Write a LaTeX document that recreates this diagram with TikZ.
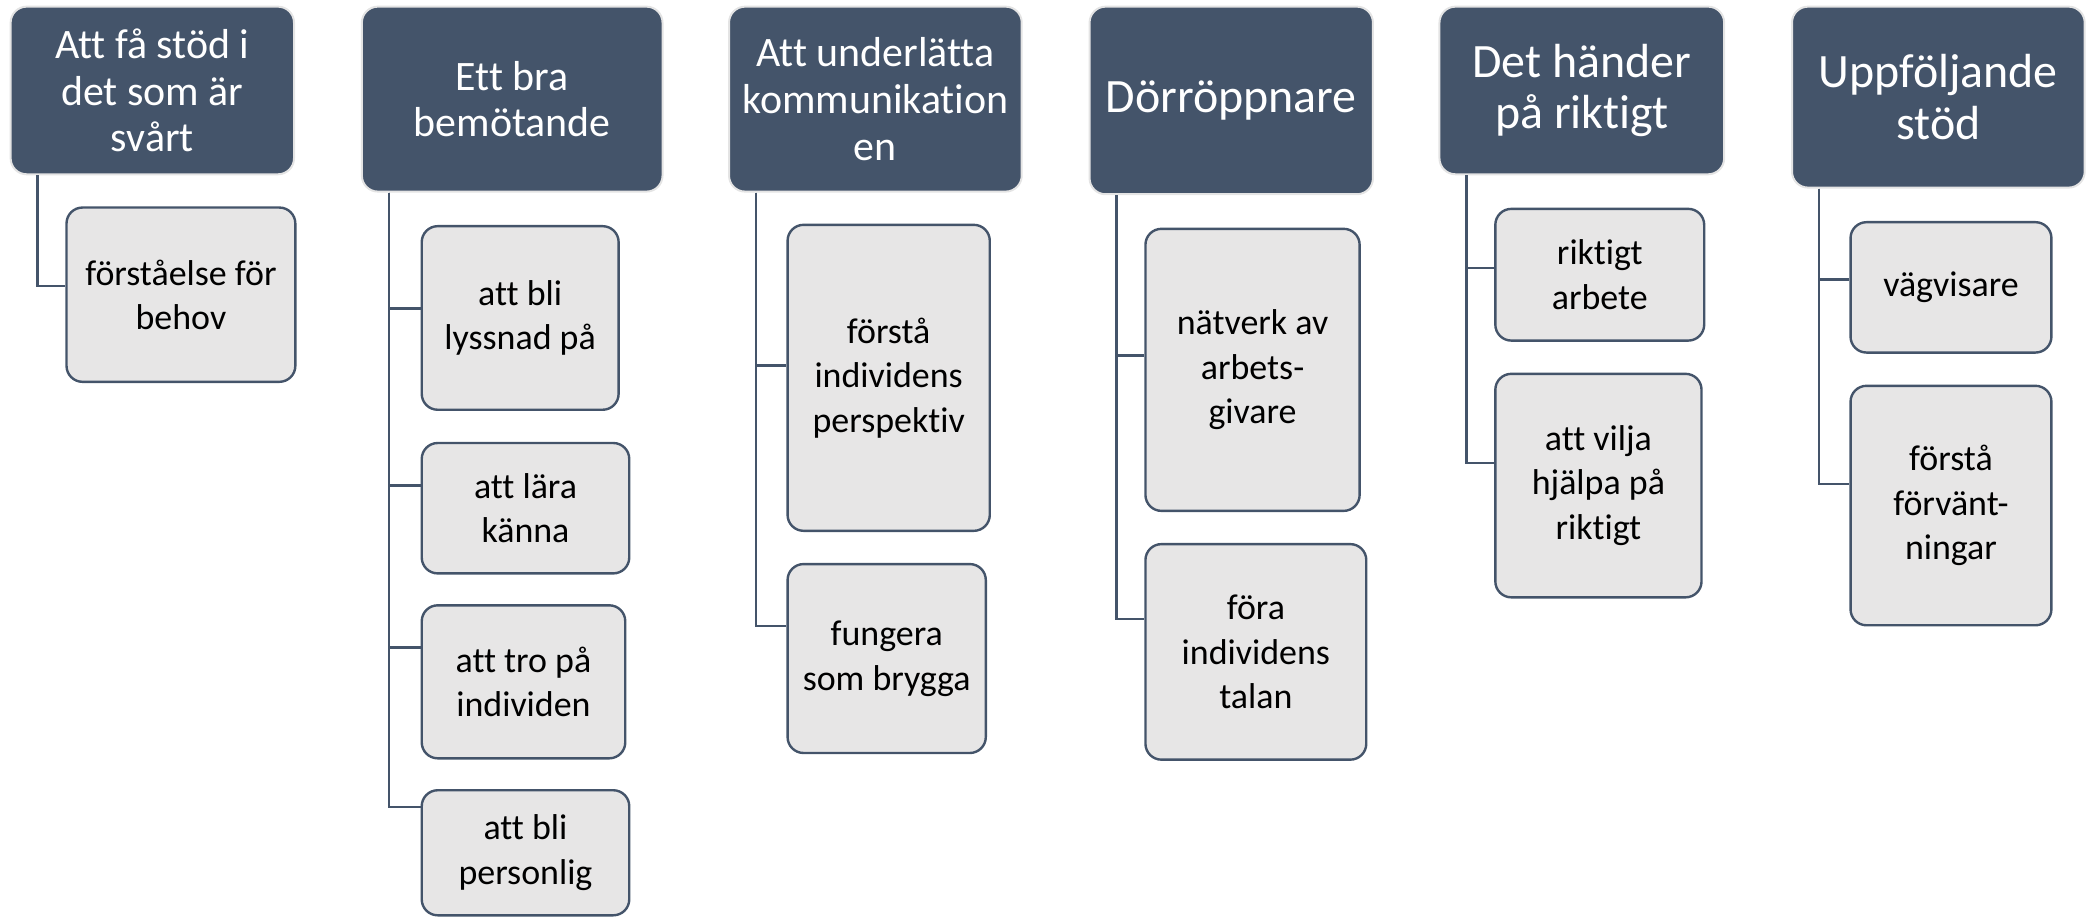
\documentclass[tikz,border=0pt]{standalone}
\usepackage{fontspec}
\setmainfont{Carlito}[Ligatures={NoCommon,NoContextual}]
\usetikzlibrary{calc}
\definecolor{hdrfill}{HTML}{44546A}
\definecolor{boxfill}{HTML}{E7E6E6}
\definecolor{hdrline}{HTML}{E4E4E4}
\tikzset{
  hdr/.style={draw=hdrline, line width=1.5pt, fill=hdrfill, rounded corners=12pt,
    text=white, font=\fontsize{31.5}{35}\selectfont, align=center, inner sep=0pt},
  hdrbig/.style={hdr, font=\fontsize{36}{39}\selectfont},
  sub/.style={draw=hdrfill, line width=1.8pt, fill=boxfill, rounded corners=12pt,
    text=black, font=\fontsize{27}{33.5}\selectfont, align=center, inner sep=0pt},
  link/.style={draw=hdrfill, line width=1.8pt},
}
\newcommand\mkbox[7]{\node[#1, minimum width={(#5-#3)*1pt}, minimum height={(#6-#4)*1pt}] (#2) at ({(#3+#5)/2},{(#4+#6)/2}) {#7};}
\newcommand\lnk[3]{\draw[link] ($(#1.south west)+(21,0)$) |- ($(#2.north west)!#3!(#2.south west)$);}
\begin{document}
\begin{tikzpicture}[x=1pt,y=-1pt]
\useasboundingbox (0,0) rectangle (1568,689);
% headers
\mkbox{hdr}{h1}{8}{5}{221}{131}{Att få stöd i\\det som är\\svårt}
\mkbox{hdr}{h2}{272}{5}{498}{144}{Ett bra\\bemötande}
\mkbox{hdr}{h3}{548}{5}{768}{144}{Att underlätta\\kommunikation\\en}
\mkbox{hdrbig}{h4}{819}{5}{1032}{146}{Dörröppnare}
\mkbox{hdrbig}{h5}{1082}{5}{1296}{131}{Det händer\\på riktigt}
\mkbox{hdrbig}{h6}{1347}{5}{1567}{141}{Uppföljande\\stöd}
% children
\mkbox{sub}{c1a}{50}{156}{222}{287}{förståelse för\\behov}
\mkbox{sub}{c2a}{317}{170}{465}{308}{att bli\\lyssnad på}
\mkbox{sub}{c2b}{317}{333}{473}{431}{att lära\\känna}
\mkbox{sub}{c2c}{317}{455}{470}{570}{att tro på\\individen}
\mkbox{sub}{c2d}{317}{594}{473}{688}{att bli\\personlig}
\mkbox{sub}{c3a}{592}{169}{744}{399}{förstå\\individens\\perspektiv}
\mkbox{sub}{c3b}{592}{424}{741}{566}{fungera\\som brygga}
\mkbox{sub}{c4a}{861}{172}{1022}{384}{nätverk av\\arbets-\\givare}
\mkbox{sub}{c4b}{861}{409}{1027}{571}{föra\\individens\\talan}
\mkbox{sub}{c5a}{1124}{157}{1281}{256}{riktigt\\arbete}
\mkbox{sub}{c5b}{1124}{281}{1279}{449}{att vilja\\hjälpa på\\riktigt}
\mkbox{sub}{c6a}{1391}{167}{1542}{265}{vägvisare}
\mkbox{sub}{c6b}{1391}{290}{1542}{470}{förstå\\förvänt-\\ningar}
% connectors
\lnk{h1}{c1a}{0.45}
\lnk{h2}{c2a}{0.45}
\lnk{h2}{c2b}{0.33}
\lnk{h2}{c2c}{0.28}
\lnk{h2}{c2d}{0.14}
\lnk{h3}{c3a}{0.46}
\lnk{h3}{c3b}{0.33}
\lnk{h4}{c4a}{0.45}
\lnk{h4}{c4b}{0.35}
\lnk{h5}{c5a}{0.45}
\lnk{h5}{c5b}{0.40}
\lnk{h6}{c6a}{0.44}
\lnk{h6}{c6b}{0.41}
\end{tikzpicture}
\end{document}
